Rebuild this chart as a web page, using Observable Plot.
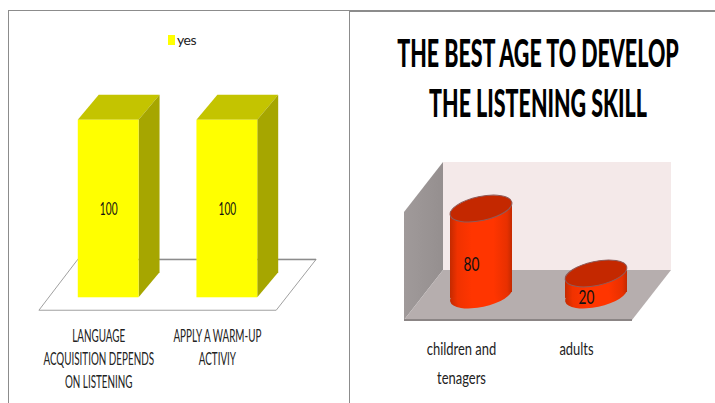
<!DOCTYPE html>
<html>
<head>
<meta charset="utf-8">
<script src="https://cdn.jsdelivr.net/npm/d3@7"></script>
<script src="https://cdn.jsdelivr.net/npm/@observablehq/plot@0.6"></script>
<style>
html,body{margin:0;padding:0;background:#fff;overflow:hidden}
#page{position:relative;width:715px;height:403px;overflow:hidden}
.panel{position:absolute;top:10px;bottom:-2px;box-sizing:border-box;border-top:1px solid #8c8c8c}
#left{left:8px;width:342px;border-left:1px solid #8c8c8c;border-right:1px solid #8c8c8c}
#right{left:350px;width:365px;border-top:2px solid #8c8c8c}
#leftPlot{position:absolute;left:-9px;top:39px}
#rightPlot{position:absolute;left:0;top:118px}
#legend{position:absolute;left:159px;top:12px}
#legend [class$="-swatch"]{letter-spacing:-.5px}
#legend [class$="-swatch"] > svg{margin-right:2px !important}
#title{position:absolute;left:-112.5px;top:16px;width:600px;margin:0;text-align:center;white-space:nowrap;
 font:900 37px/50px Lato,sans-serif;color:#000;transform:scaleX(.58);transform-origin:300px 0;}
svg{display:block;overflow:visible}
</style>
</head>
<body>
<div id="page">
 <div class="panel" id="left"><div id="legend"></div><div id="leftPlot"></div></div>
 <div class="panel" id="right"><h1 id="title">THE BEST AGE TO DEVELOP<br>THE LISTENING SKILL</h1><div id="rightPlot"></div></div>
</div>
<script>
const font = 'Lato,sans-serif';

// Left chart
const leftCategories = ["LANGUAGE\nACQUISITION DEPENDS\nON LISTENING", "APPLY A WARM-UP\nACTIVIY"];
const leftValues = [100, 100];
const leftSeries = "yes";
// Right chart
const rightCategories = ["children and\ntenagers", "adults"];
const rightValues = [80, 20];

const leftRows = leftCategories.map((c, i) => ({c, v: leftValues[i]}));
const rightRows = rightCategories.map((c, i) => ({c, v: rightValues[i]}));

const poly = (g, pts, attrs) => {
  const p = g.append("polygon").attr("points", pts.map(d => d.join(",")).join(" "));
  Object.entries(attrs).forEach(([k, v]) => p.attr(k, v));
  return p;
};
// the reference's lettering is horizontally squeezed
const squeeze = (chart, k) => {
  chart.querySelectorAll("text").forEach(t => {
    t.setAttribute("transform", `${t.getAttribute("transform") || ""} scale(${k},1)`);
  });
  return chart;
};

// ---- left chart pieces
const LDX = 21, LDY = -25;
const leftFloor = (index, {x, y}) => {
  const g = d3.create("svg:g");
  const b = x.bandwidth(), y0 = y(0);
  const fl = x(leftCategories[0]) - 39, fr = x(leftCategories[1]) + b + 19, fy = y0 + 13;
  const bl = fl + 39, br = fr + 40, by = y0 - 38;
  poly(g, [[fl, fy], [fr, fy], [br, by], [bl, by]], {fill: "#fff", stroke: "#a0a0a0", "stroke-width": 1});
  g.append("line").attr("x1", bl).attr("x2", br).attr("y1", by).attr("y2", by).attr("stroke", "#8c8c8c").attr("stroke-width", 1.5);
  return g.node();
};
const leftFaces = (index, {x, y}) => {
  const g = d3.create("svg:g");
  const b = x.bandwidth();
  for (const r of leftRows) {
    const x0 = x(r.c), x1 = x0 + b, yt = y(r.v), yb = y(0);
    poly(g, [[x0, yt], [x0 + LDX, yt + LDY], [x1 + LDX, yt + LDY], [x1, yt]], {fill: "#c4c400"});
    poly(g, [[x1, yt], [x1 + LDX, yt + LDY], [x1 + LDX, yb + LDY], [x1, yb]], {fill: "#a6a600"});
  }
  return g.node();
};

const leftChart = Plot.plot({
  width: 350, height: 353,
  marginTop: 0, marginRight: 0, marginLeft: 0, marginBottom: 105,
  style: {background: "transparent", fontFamily: font},
  x: {type: "band", domain: leftCategories, range: [18.7, 317.4], padding: 0.49, label: null},
  y: {domain: [0, 100], range: [248, 70], axis: null},
  marks: [
    leftFloor,
    leftFaces,
    Plot.barY(leftRows, {x: "c", y: "v", fill: "#ffff00"}),
    Plot.text(leftRows, {x: "c", y: d => d.v / 2, text: d => String(d.v), dy: 1, fontSize: 17, fill: "#111"}),
    Plot.axisX({tickSize: 0, tickPadding: 28, dx: -10, fontSize: 16.5, lineHeight: 1.4, lineAnchor: "top", fill: "#222", label: null, tickFormat: d => d})
  ]
});
document.getElementById("leftPlot").append(squeeze(leftChart, 0.6));

document.getElementById("legend").append(Plot.legend({
  color: {type: "ordinal", domain: [leftSeries], range: ["#ffff00"]},
  swatchWidth: 7, swatchHeight: 10,
  style: {fontFamily: font, fontSize: "14px", color: "#222", margin: 0}
}));

// ---- right chart pieces
const RDX = 39, RDY = -50;
const rightWalls = (index, {x, y}) => {
  const g = d3.create("svg:g");
  const defs = g.append("defs");
  const grad = defs.append("linearGradient").attr("id", "wallGrad").attr("x1", 0).attr("x2", 1).attr("y1", 0).attr("y2", 0);
  grad.append("stop").attr("offset", 0).attr("stop-color", "#a09a9a");
  grad.append("stop").attr("offset", 1).attr("stop-color", "#958f8f");
  const body = defs.append("linearGradient").attr("id", "cylGrad").attr("x1", 0).attr("x2", 1).attr("y1", 0).attr("y2", 0);
  [[0, "#c42a00"], [0.12, "#f03200"], [0.35, "#ff3500"], [0.7, "#ff3500"], [0.92, "#e83000"], [1, "#c42a00"]]
    .forEach(([o, c]) => body.append("stop").attr("offset", o).attr("stop-color", c));
  const fl = x(rightCategories[0]) - 46, fr = fl + 228, fy = y(0) + 25;
  const ty = y(100) - 25;
  const bl = fl + RDX, br = fr + RDX, by = fy + RDY;
  poly(g, [[bl, ty], [br, ty], [br, by], [bl, by]], {fill: "#f4e9e9"});
  poly(g, [[fl, ty - RDY], [bl, ty], [bl, by], [fl, fy]], {fill: "url(#wallGrad)"});
  poly(g, [[fl, fy], [bl, by], [br, by], [fr, fy]], {fill: "#b6aeae"});
  g.append("line").attr("x1", fl).attr("x2", fr).attr("y1", fy).attr("y2", fy).attr("stroke", "#8b8585").attr("stroke-width", 2);
  return g.node();
};
const ANGLE = -12, RX = 31.5, RY = 12;
const rightCylinders = (index, {x, y}) => {
  const g = d3.create("svg:g");
  const b = x.bandwidth();
  for (const r of rightRows) {
    const cx = x(r.c) + b / 2, yt = y(r.v), yb = y(0);
    const ell = (cy, fill, stroke) => g.append("ellipse").attr("cx", cx).attr("cy", cy).attr("rx", RX).attr("ry", RY)
      .attr("transform", `rotate(${ANGLE} ${cx} ${cy})`).attr("fill", fill).attr("stroke", stroke);
    ell(yb, "url(#cylGrad)", "none");
    poly(g, [[cx - b / 2, yt + 3], [cx + b / 2, yt - 3], [cx + b / 2, yb - 3], [cx - b / 2, yb + 3]], {fill: "url(#cylGrad)"});
    ell(yt, "#c42800", "#8f5a58");
  }
  return g.node();
};

const rightChart = Plot.plot({
  width: 365, height: 273,
  marginTop: 0, marginRight: 0, marginLeft: 0, marginBottom: 108,
  style: {background: "transparent", fontFamily: font},
  x: {type: "band", domain: rightCategories, range: [47, 330], padding: 0.46, label: null},
  y: {domain: [0, 100], range: [165, 57], axis: null},
  marks: [
    rightWalls,
    rightCylinders,
    Plot.text(rightRows, {x: "c", y: d => d.v / 2, text: d => String(d.v), dx: -10, dy: 13, fontSize: 19, fill: "#111"}),
    Plot.axisX({tickSize: 0, tickPadding: 39, dx: -20, fontSize: 18, lineHeight: 1.6, lineAnchor: "top", fill: "#222", label: null, tickFormat: d => d})
  ]
});
document.getElementById("rightPlot").append(squeeze(rightChart, 0.72));
</script>
</body>
</html>
